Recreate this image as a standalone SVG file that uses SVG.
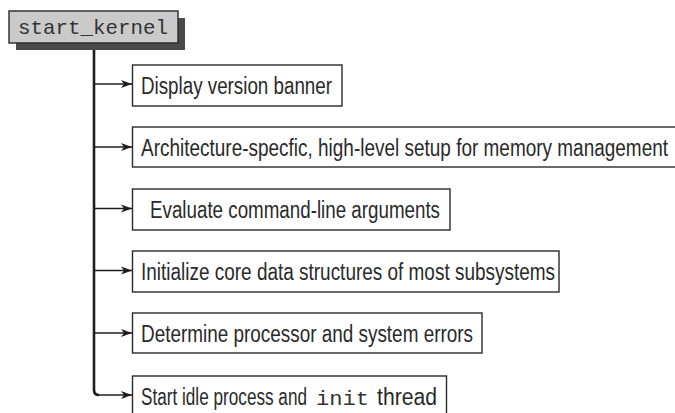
<svg xmlns="http://www.w3.org/2000/svg" width="675" height="413" viewBox="0 0 675 413">
<style>
.box{fill:#fff;stroke:#2a2a2a;stroke-width:1.4}
.t{font-family:"Liberation Sans",Arial,sans-serif;font-size:23px;fill:#2a2a2a}
.m{font-family:"Liberation Mono","Courier New",monospace;fill:#333}
.c{fill:none;stroke:#1e1e1e;stroke-width:1.7}
</style>
<defs>
<marker id="ah" markerWidth="12" markerHeight="10" refX="11" refY="5" orient="auto" markerUnits="userSpaceOnUse">
<path d="M0,1 L11,5 L0,9 L3,5 Z" fill="#1e1e1e"/>
</marker>
</defs>
<rect width="675" height="413" fill="#fff"/>
<g id="connectors">
<path d="M94,43 V390 Q94,395 99,395" fill="none" stroke="#1e1e1e" stroke-width="2.6"/>
<line class="c" x1="94" y1="84" x2="132" y2="84" marker-end="url(#ah)"/>
<line class="c" x1="94" y1="147" x2="132" y2="147" marker-end="url(#ah)"/>
<line class="c" x1="94" y1="208.5" x2="132" y2="208.5" marker-end="url(#ah)"/>
<line class="c" x1="94" y1="270.5" x2="132" y2="270.5" marker-end="url(#ah)"/>
<line class="c" x1="94" y1="333" x2="132" y2="333" marker-end="url(#ah)"/>
<line class="c" x1="99" y1="395" x2="132" y2="395" marker-end="url(#ah)"/>
</g>
<g id="start_kernel">
<rect x="16" y="18" width="169" height="32" fill="#4a4a4a"/>
<rect x="9" y="11" width="169" height="32" fill="#cacaca" stroke="#2a2a2a" stroke-width="1.4"/>
<text class="m" x="18" y="33.5" font-size="21" textLength="150" lengthAdjust="spacingAndGlyphs">start_kernel</text>
</g>
<g id="n1">
<rect class="box" x="132.5" y="65" width="209.5" height="41"/>
<text class="t" x="141" y="94" textLength="191" lengthAdjust="spacingAndGlyphs">Display version banner</text>
</g>
<g id="n2">
<rect class="box" x="132.5" y="127" width="548" height="40"/>
<text class="t" x="141" y="156" textLength="527" lengthAdjust="spacingAndGlyphs">Architecture-specfic, high-level setup for memory management</text>
</g>
<g id="n3">
<rect class="box" x="132.5" y="189" width="317.5" height="41"/>
<text class="t" x="150" y="218" textLength="290" lengthAdjust="spacingAndGlyphs">Evaluate command-line arguments</text>
</g>
<g id="n4">
<rect class="box" x="132.5" y="251" width="426.5" height="41"/>
<text class="t" x="141" y="280" textLength="414" lengthAdjust="spacingAndGlyphs">Initialize core data structures of most subsystems</text>
</g>
<g id="n5">
<rect class="box" x="132.5" y="313" width="349.5" height="40"/>
<text class="t" x="141" y="342" textLength="332" lengthAdjust="spacingAndGlyphs">Determine processor and system errors</text>
</g>
<g id="n6">
<rect class="box" x="132.5" y="376" width="314" height="50"/>
<text class="t" x="141" y="405" textLength="166" lengthAdjust="spacingAndGlyphs">Start idle process and</text>
<text class="m" x="316" y="405" font-size="21" textLength="53" lengthAdjust="spacingAndGlyphs">init</text>
<text class="t" x="377" y="405" textLength="60" lengthAdjust="spacingAndGlyphs">thread</text>
</g>
</svg>
